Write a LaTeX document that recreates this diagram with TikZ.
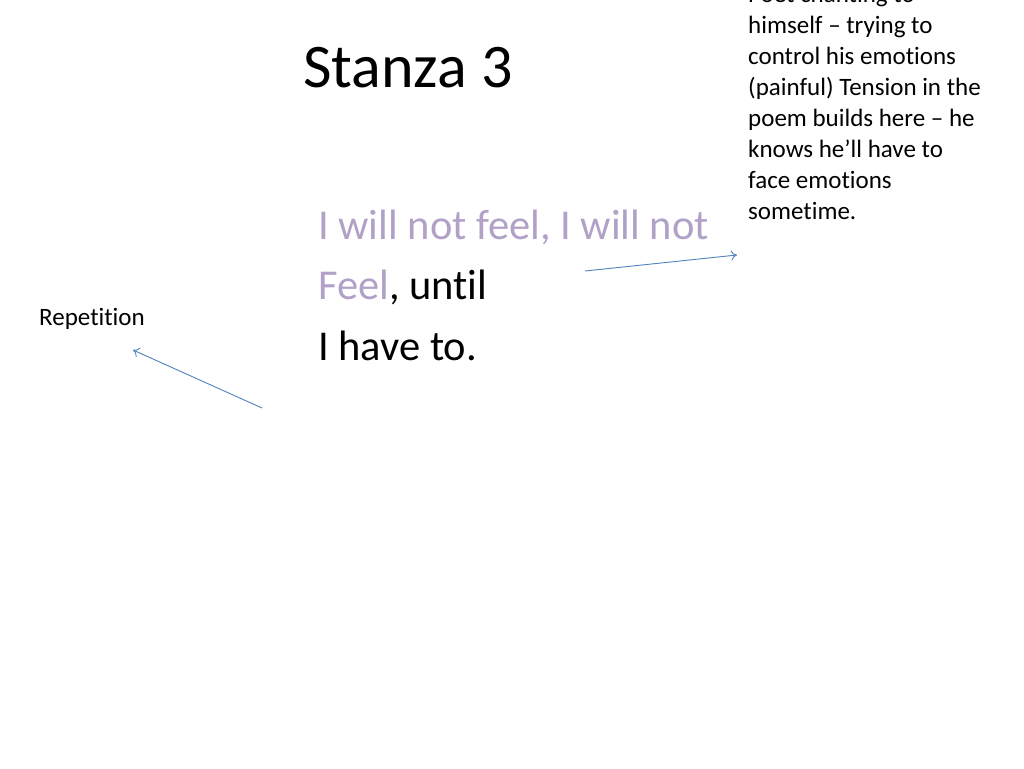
\documentclass[tikz,border=0pt]{standalone}
\usepackage{fontspec}
\usetikzlibrary{arrows.meta}
\setmainfont[Ligatures={NoCommon}]{Carlito}
\begin{document}
\begin{tikzpicture}[x=1pt,y=-1pt,
  note/.style={anchor=base west,inner sep=0pt,font=\fontsize{25}{31}\selectfont,align=left},
  arr/.style={draw={rgb,255:red,79;green,129;blue,189},line width=0.9pt,-{To[length=6pt,width=10pt]}}]
\useasboundingbox (0,0) rectangle (1024,768);
\definecolor{lav}{RGB}{178,161,199}
\node[anchor=base west,inner sep=0pt,font=\fontsize{62}{70}\selectfont] (title) at (303,87) {Stanza 3};
\node[anchor=base west,inner sep=0pt,font=\fontsize{42.5}{60.5}\selectfont,align=left] (poem) at (318,360)
  {\textcolor{lav}{I will not feel, I will not}\\ \textcolor{lav}{Feel}, until\\ I have to.};
\node[note] (rep) at (39,325) {Repetition};
\node[note] (poet) at (748,219) {Poet chanting to\\himself -- trying to\\control his emotions\\(painful) Tension in the\\poem builds here -- he\\knows he’ll have to\\face emotions\\sometime.};
\coordinate (a1) at (585,271); \coordinate (b1) at (737,255);
\coordinate (a2) at (262,408); \coordinate (b2) at (133,350);
\draw[arr] (a1) -- (b1);
\draw[arr] (a2) -- (b2);
\end{tikzpicture}
\end{document}
